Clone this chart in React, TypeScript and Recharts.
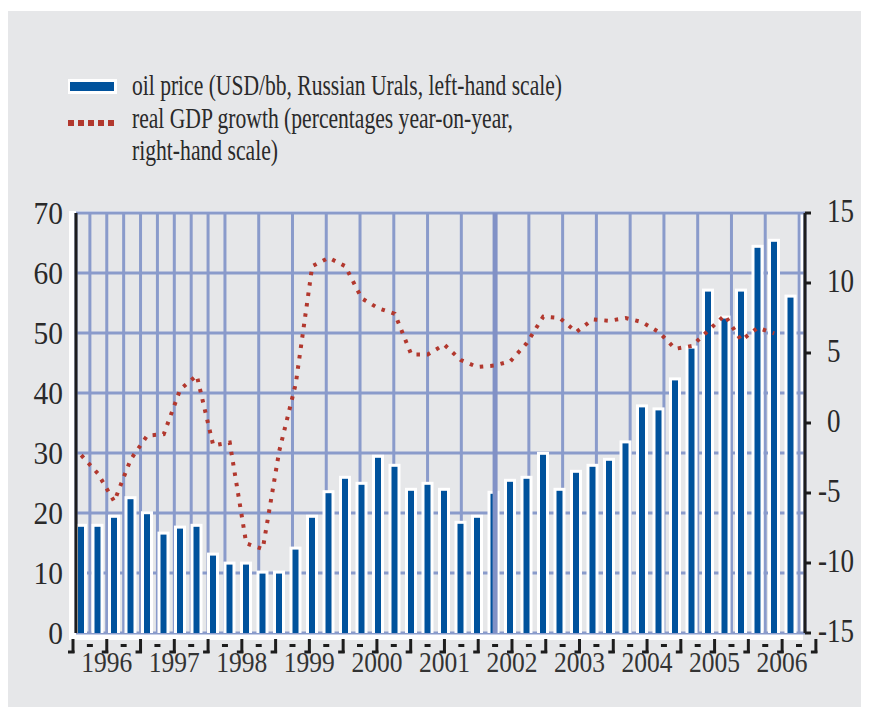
import React from 'react';
import { ComposedChart, Bar, Line, XAxis, YAxis, CartesianGrid, ReferenceLine, Legend } from 'recharts';

// ---------- data ----------
const years = ['1996', '1997', '1998', '1999', '2000', '2001', '2002', '2003', '2004', '2005', '2006'];
const quarterNames = ['Q1', 'Q2', 'Q3', 'Q4'];
const categories = years.flatMap((y) => quarterNames.map((q) => `${q} ${y}`));

// oil price, USD/bbl (left-hand scale)
const oilPrice = [
  17.7, 17.7, 19.2, 22.3,
  19.8, 16.4, 17.4, 17.7,
  12.9, 11.4, 11.4, 9.9,
  9.9, 13.9, 19.2, 23.3,
  25.7, 24.7, 29.2, 27.7,
  23.7, 24.7, 23.7, 18.2,
  19.2, 23.2, 25.2, 25.7,
  29.7, 23.7, 26.7, 27.7,
  28.7, 31.6, 37.6, 37.1,
  42.1, 47.4, 56.9, 52.4,
  56.9, 64.2, 65.2, 55.9,
];

// real GDP growth, % y-o-y (right-hand scale)
const gdpGrowth: (number | null)[] = [
  -2.3, -3.6, -5.6, -2.6,
  -0.9, -0.8, 2.4, 3.4,
  -1.6, -1.4, -8.6, -9.0,
  -2.0, 2.8, 11.2, 11.8,
  11.2, 8.9, 8.2, 7.8,
  4.9, 4.9, 5.6, 4.5,
  4.0, 4.1, 4.4, 5.7,
  7.6, 7.5, 6.5, 7.4,
  7.3, 7.5, 7.2, 6.5,
  5.3, 5.5, 6.6, 7.7,
  5.9, 6.8, 6.4, null,
];

const leftTicks = [0, 10, 20, 30, 40, 50, 60, 70];
const gridTicksY = [10, 20, 30, 40, 50, 60, 70];
const rightTicks = [-15, -10, -5, 0, 5, 10, 15];
const oilLegend = ['oil price (USD/bb, Russian Urals, left-hand scale)'];
const gdpLegend = ['real GDP growth (percentages year-on-year,', 'right-hand scale)'];
const highlightedBoundary = 25;

const boundaries = categories.map((_, i) => i).concat(categories.length);
const innerBoundaries = boundaries.slice(1, -1);
const rows = categories.map((q, i) => ({ q, oil: oilPrice[i], gdp: gdpGrowth[i] }));

// ---------- style ----------
const W = 861;
const H = 699;
const MARGIN = { top: 202, right: 3, bottom: 27, left: 9 };
const YW = 60;
const XH = 50;
const PAD = { left: -3, right: 6 };
const PLOT_L = MARGIN.left + YW;
const PLOT_R = W - MARGIN.right - YW;
const PLOT_T = MARGIN.top;
const PLOT_B = H - MARGIN.bottom - XH;

const FONT = '"Liberation Serif", "Times New Roman", serif';
const BG = '#e6e7e9';
const BLUE = '#00529c';
const RED = '#b2382e';
const GRID = '#8a9bcb';
const INK = '#1d1d1d';
const TXT = '#2a2a2a';

const LeftTick = (props: any) => {
  const { x, y, payload } = props;
  return (
    <g transform={`translate(${x - 13} ${y + 10.5}) scale(0.92 1)`}>
      <text x={0} y={0} textAnchor="end" fontFamily={FONT} fontSize={32} fill={TXT}>
        {payload.value}
      </text>
    </g>
  );
};

const RightTick = (props: any) => {
  const { x, y, payload } = props;
  const v = payload.value as number;
  return (
    <g transform={`translate(${x + 16 - (v < 0 ? 9 : 0)} ${y + 8.7}) scale(0.82 1)`}>
      <text x={0} y={0} textAnchor="start" fontFamily={FONT} fontSize={33} fill={TXT}>
        {String(v)}
      </text>
    </g>
  );
};

const BottomTick = (props: any) => {
  const { x, y, payload } = props;
  const k = payload.value as number;
  const label = k % 4 === 2 ? years[(k - 2) / 4] : null;
  return (
    <g>
      {k % 2 === 0 ? (
        <g>
          <line x1={x} x2={x} y1={y + 6} y2={y + 20} stroke={INK} strokeWidth={3} />
          <line x1={x - 5} x2={x + 1.5} y1={y + 19} y2={y + 19} stroke={INK} strokeWidth={3} />
        </g>
      ) : (
        <line x1={x - 3} x2={x + 3} y1={y + 12.5} y2={y + 12.5} stroke={INK} strokeWidth={3} />
      )}
      {label && (
        <g transform={`translate(${x} ${y + 38.7}) scale(0.88 1)`}>
          <text x={0} y={0} textAnchor="middle" fontFamily={FONT} fontSize={29} fill="#333">
            {label}
          </text>
        </g>
      )}
    </g>
  );
};

const OilBar = (p: any) => {
  const { x, y, width, height } = p;
  if (height == null || isNaN(height)) return null;
  return (
    <g>
      <rect x={x - 3} y={y - 3} width={width + 6} height={height + 3} fill="#ffffff" />
      <rect x={x} y={y} width={width} height={height} fill={BLUE} />
    </g>
  );
};

const LegendContent = () => (
  <svg width={W} height={170} style={{ display: 'block' }}>
    <rect x={61} y={68} width={49} height={15} fill="#ffffff" />
    <rect x={63} y={71} width={44} height={9} fill={BLUE} />
    {[0, 1, 2, 3, 4].map((i) => (
      <rect key={i} x={61 + 10 * i} y={109} width={6} height={6} fill={RED} />
    ))}
    <text x={125} y={84} fontFamily={FONT} fontSize={30} fill={TXT} textLength={430} lengthAdjust="spacingAndGlyphs">
      {oilLegend[0]}
    </text>
    <text x={125} y={117} fontFamily={FONT} fontSize={30} fill={TXT} textLength={381} lengthAdjust="spacingAndGlyphs">
      {gdpLegend[0]}
    </text>
    <text x={125} y={149} fontFamily={FONT} fontSize={30} fill={TXT} textLength={146} lengthAdjust="spacingAndGlyphs">
      {gdpLegend[1]}
    </text>
  </svg>
);

export default function App() {
  return (
    <div style={{ position: 'relative', left: -1, top: 3, width: W, height: H, background: BG, overflow: 'hidden' }}>
      {/* white frame around the plot */}
      <div
        style={{
          position: 'absolute',
          left: PLOT_L - 7,
          top: PLOT_T - 2,
          width: PLOT_R - 2 - (PLOT_L - 7),
          height: PLOT_B + 7 - (PLOT_T - 2),
          background: '#ffffff',
        }}
      />
      <div
        style={{
          position: 'absolute',
          left: PLOT_L,
          top: PLOT_T,
          width: PLOT_R - 8 - PLOT_L,
          height: PLOT_B - PLOT_T,
          background: BG,
        }}
      />
      <div style={{ position: 'absolute', left: 0, top: 0 }}>
        <ComposedChart width={W} height={H} data={rows} margin={MARGIN}>
          <XAxis
            xAxisId="a_ticks"
            type="number"
            domain={[0, categories.length]}
            ticks={boundaries}
            allowDataOverflow
            interval={0}
            padding={PAD}
            height={XH}
            axisLine={false}
            tickLine={false}
            tickSize={0}
            tickMargin={0}
            tick={<BottomTick />}
          />
          <XAxis xAxisId="b_cat" dataKey="q" type="category" hide height={0} padding={PAD} />
          <XAxis
            xAxisId="c_grid"
            type="number"
            domain={[0, categories.length]}
            ticks={innerBoundaries}
            allowDataOverflow
            hide
            height={0}
            padding={PAD}
          />
          <YAxis
            yAxisId="a_left"
            orientation="left"
            domain={[0, 70]}
            ticks={leftTicks}
            interval={0}
            width={YW}
            axisLine={{ stroke: INK, strokeWidth: 3 }}
            tickLine={false}
            tickSize={0}
            tickMargin={0}
            tick={<LeftTick />}
          />
          <YAxis
            yAxisId="b_right"
            orientation="right"
            domain={[-15, 15]}
            ticks={rightTicks}
            interval={0}
            width={YW}
            axisLine={{ stroke: INK, strokeWidth: 3 }}
            tickLine={{ stroke: INK, strokeWidth: 3 }}
            tickSize={6}
            tickMargin={0}
            tick={<RightTick />}
          />
          <YAxis
            yAxisId="c_grid"
            orientation="left"
            type="number"
            domain={[0, 70]}
            ticks={gridTicksY}
            interval={0}
            allowDataOverflow
            hide
            width={0}
          />
          <CartesianGrid xAxisId="c_grid" yAxisId="c_grid" stroke={GRID} strokeWidth={3} />
          <ReferenceLine xAxisId="c_grid" yAxisId="a_left" x={highlightedBoundary} stroke="#8191c6" strokeWidth={5} />
          <Legend
            layout="vertical"
            align="center"
            verticalAlign="middle"
            width={W}
            height={170}
            wrapperStyle={{ top: 0, left: 0, width: W, height: 170 }}
            content={<LegendContent />}
          />
          <Bar
            xAxisId="b_cat"
            yAxisId="a_left"
            dataKey="oil"
            name={oilLegend[0]}
            barSize={6}
            fill={BLUE}
            shape={<OilBar />}
            isAnimationActive={false}
          />
          <Line
            xAxisId="b_cat"
            yAxisId="b_right"
            dataKey="gdp"
            name={gdpLegend.join(' ')}
            type="linear"
            stroke={RED}
            strokeWidth={4}
            strokeDasharray="3.5 7"
            dot={false}
            activeDot={false}
            isAnimationActive={false}
          />
        </ComposedChart>
      </div>
    </div>
  );
}
